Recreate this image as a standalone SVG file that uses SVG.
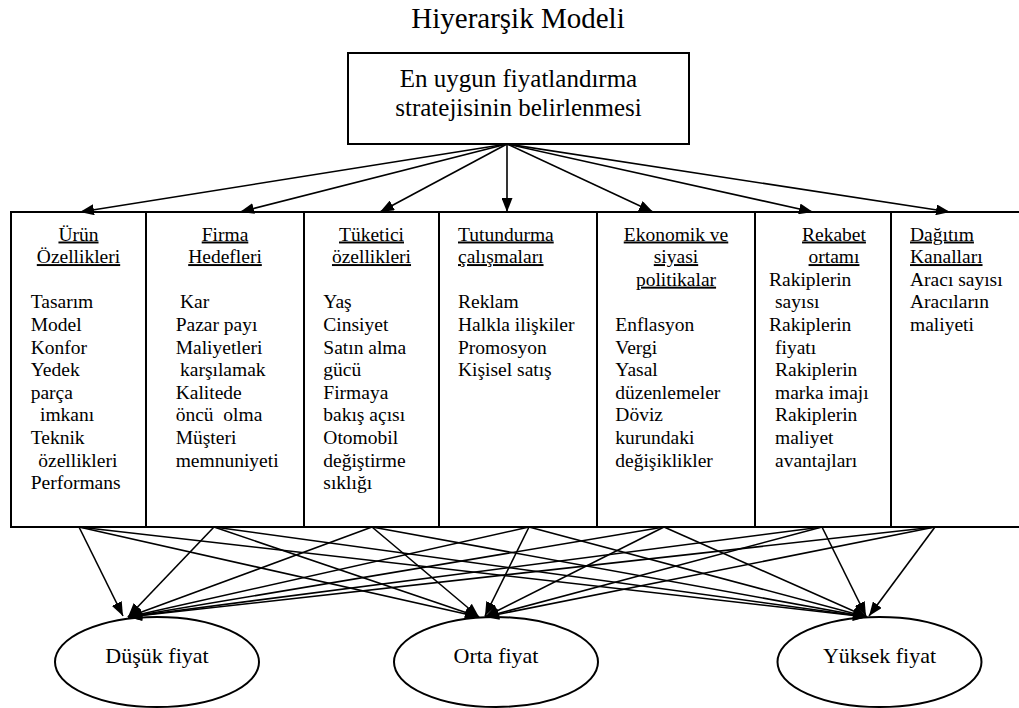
<svg xmlns="http://www.w3.org/2000/svg" width="1019" height="708" viewBox="0 0 1019 708" font-family="'Liberation Serif', 'Times New Roman', 'DejaVu Serif', serif">
<style>
text{font-family:"Liberation Serif","Times New Roman","DejaVu Serif",serif;fill:#000}
.t{font-size:29px}
.b{font-size:25px}
.s{font-size:19.5px}
.e{font-size:22px}
.h{text-decoration:underline}
.m{text-anchor:middle}
.box{fill:#fff;stroke:#000;stroke-width:2}
.ln{stroke:#000;stroke-width:1.6;fill:none;marker-end:url(#ah)}
</style>
<defs>
<marker id="ah" markerUnits="userSpaceOnUse" markerWidth="14" markerHeight="11" viewBox="0 0 14 11" refX="14" refY="5.5" orient="auto">
<path d="M0,0 L14,5.5 L0,11 z" fill="#000"/>
</marker>
</defs>
<rect width="1019" height="708" fill="#fff"/>
<text class="t m" x="518" y="28">Hiyerarşik Modeli</text>

<g id="goal">
<rect class="box" x="348" y="53" width="341" height="91"/>
<text class="b m" x="518.5" y="87">En uygun fiyatlandırma</text>
<text class="b m" x="518.5" y="116">stratejisinin belirlenmesi</text>
</g>

<g id="col1">
<rect class="box" x="11" y="212" width="135" height="315"/>
<text class="s m h" x="78.5" y="240.5">Ürün</text>
<text class="s m h" x="78.5" y="263.1">Özellikleri</text>
<text class="s" x="30.7" y="308.3">Tasarım</text>
<text class="s" x="30.7" y="330.9">Model</text>
<text class="s" x="30.7" y="353.5">Konfor</text>
<text class="s" x="30.7" y="376.1">Yedek</text>
<text class="s" x="30.7" y="398.7">parça</text>
<text class="s" x="40" y="421.3">imkanı</text>
<text class="s" x="30.7" y="443.9">Teknik</text>
<text class="s" x="38.3" y="466.5">özellikleri</text>
<text class="s" x="30.7" y="489.1">Performans</text>
</g>

<g id="col2">
<rect class="box" x="146" y="212" width="158" height="315"/>
<text class="s m h" x="225" y="240.5">Firma</text>
<text class="s m h" x="225" y="263.1">Hedefleri</text>
<text class="s" x="180" y="308.3">Kar</text>
<text class="s" x="175.7" y="330.9">Pazar payı</text>
<text class="s" x="175.7" y="353.5">Maliyetleri</text>
<text class="s" x="180" y="376.1">karşılamak</text>
<text class="s" x="175.7" y="398.7">Kalitede</text>
<text class="s" x="175.7" y="421.3" xml:space="preserve">öncü  olma</text>
<text class="s" x="175.7" y="443.9">Müşteri</text>
<text class="s" x="175.7" y="466.5">memnuniyeti</text>
</g>

<g id="col3">
<rect class="box" x="304" y="212" width="135" height="315"/>
<text class="s m h" x="371.5" y="240.5">Tüketici</text>
<text class="s m h" x="371.5" y="263.1">özellikleri</text>
<text class="s" x="323.3" y="308.3">Yaş</text>
<text class="s" x="323.3" y="330.9">Cinsiyet</text>
<text class="s" x="323.3" y="353.5">Satın alma</text>
<text class="s" x="323.3" y="376.1">gücü</text>
<text class="s" x="323.3" y="398.7">Firmaya</text>
<text class="s" x="323.3" y="421.3">bakış açısı</text>
<text class="s" x="323.3" y="443.9">Otomobil</text>
<text class="s" x="323.3" y="466.5">değiştirme</text>
<text class="s" x="323.3" y="489.1">sıklığı</text>
</g>

<g id="col4">
<rect class="box" x="439" y="212" width="158" height="315"/>
<text class="s h" x="458" y="240.5">Tutundurma</text>
<text class="s h" x="458" y="263.1">çalışmaları</text>
<text class="s" x="458" y="308.3">Reklam</text>
<text class="s" x="458" y="330.9">Halkla ilişkiler</text>
<text class="s" x="458" y="353.5">Promosyon</text>
<text class="s" x="458" y="376.1">Kişisel satış</text>
</g>

<g id="col5">
<rect class="box" x="597" y="212" width="158" height="315"/>
<text class="s m h" x="676" y="240.5">Ekonomik ve</text>
<text class="s m h" x="676" y="263.1">siyasi</text>
<text class="s m h" x="676" y="285.7">politikalar</text>
<text class="s" x="615.3" y="330.9">Enflasyon</text>
<text class="s" x="615.3" y="353.5">Vergi</text>
<text class="s" x="615.3" y="376.1">Yasal</text>
<text class="s" x="615.3" y="398.7">düzenlemeler</text>
<text class="s" x="615.3" y="421.3">Döviz</text>
<text class="s" x="615.3" y="443.9">kurundaki</text>
<text class="s" x="615.3" y="466.5">değişiklikler</text>
</g>

<g id="col6">
<rect class="box" x="755" y="212" width="136" height="315"/>
<text class="s m h" x="834" y="240.5">Rekabet</text>
<text class="s m h" x="834" y="263.1">ortamı</text>
<text class="s" x="769" y="285.7">Rakiplerin</text>
<text class="s" x="775" y="308.3">sayısı</text>
<text class="s" x="769" y="330.9">Rakiplerin</text>
<text class="s" x="775" y="353.5">fiyatı</text>
<text class="s" x="775" y="376.1">Rakiplerin</text>
<text class="s" x="775" y="398.7">marka imajı</text>
<text class="s" x="775" y="421.3">Rakiplerin</text>
<text class="s" x="775" y="443.9">maliyet</text>
<text class="s" x="775" y="466.5">avantajları</text>
</g>

<g id="col7">
<rect class="box" x="891" y="212" width="132" height="315"/>
<text class="s h" x="910" y="240.5">Dağıtım</text>
<text class="s h" x="910" y="263.1">Kanalları</text>
<text class="s" x="910" y="285.7">Aracı sayısı</text>
<text class="s" x="910" y="308.3">Aracıların</text>
<text class="s" x="910" y="330.9">maliyeti</text>
</g>

<g id="low">
<ellipse class="box" cx="157" cy="662" rx="102" ry="45"/>
<text class="e m" x="157" y="663">Düşük fiyat</text>
</g>
<g id="mid">
<ellipse class="box" cx="496" cy="662" rx="102" ry="45"/>
<text class="e m" x="496" y="663">Orta fiyat</text>
</g>
<g id="high">
<ellipse class="box" cx="879.5" cy="662" rx="102" ry="45"/>
<text class="e m" x="879.5" y="663">Yüksek fiyat</text>
</g>

<g id="connectors">
<line class="ln" x1="507" y1="144" x2="80" y2="212"/>
<line class="ln" x1="507" y1="144" x2="240" y2="212"/>
<line class="ln" x1="507" y1="144" x2="380" y2="212"/>
<line class="ln" x1="507" y1="144" x2="507" y2="212"/>
<line class="ln" x1="507" y1="144" x2="653" y2="212"/>
<line class="ln" x1="507" y1="144" x2="813" y2="212"/>
<line class="ln" x1="507" y1="144" x2="950" y2="212"/>

<line class="ln" x1="79" y1="527" x2="123" y2="616"/>
<line class="ln" x1="79" y1="527" x2="479" y2="617"/>
<line class="ln" x1="79" y1="527" x2="867" y2="617"/>
<line class="ln" x1="214" y1="527" x2="128" y2="617"/>
<line class="ln" x1="214" y1="527" x2="479" y2="617"/>
<line class="ln" x1="214" y1="527" x2="867" y2="617"/>
<line class="ln" x1="372" y1="527" x2="128" y2="617"/>
<line class="ln" x1="372" y1="527" x2="479" y2="617"/>
<line class="ln" x1="372" y1="527" x2="867" y2="617"/>
<line class="ln" x1="529" y1="527" x2="128" y2="617"/>
<line class="ln" x1="529" y1="527" x2="485" y2="616"/>
<line class="ln" x1="529" y1="527" x2="867" y2="617"/>
<line class="ln" x1="664" y1="527" x2="128" y2="617"/>
<line class="ln" x1="664" y1="527" x2="485" y2="617"/>
<line class="ln" x1="664" y1="527" x2="867" y2="617"/>
<line class="ln" x1="822" y1="527" x2="128" y2="617"/>
<line class="ln" x1="822" y1="527" x2="485" y2="617"/>
<line class="ln" x1="822" y1="527" x2="866" y2="616"/>
<line class="ln" x1="935" y1="527" x2="128" y2="617"/>
<line class="ln" x1="935" y1="527" x2="485" y2="617"/>
<line class="ln" x1="935" y1="527" x2="869" y2="616"/>
</g>
</svg>
